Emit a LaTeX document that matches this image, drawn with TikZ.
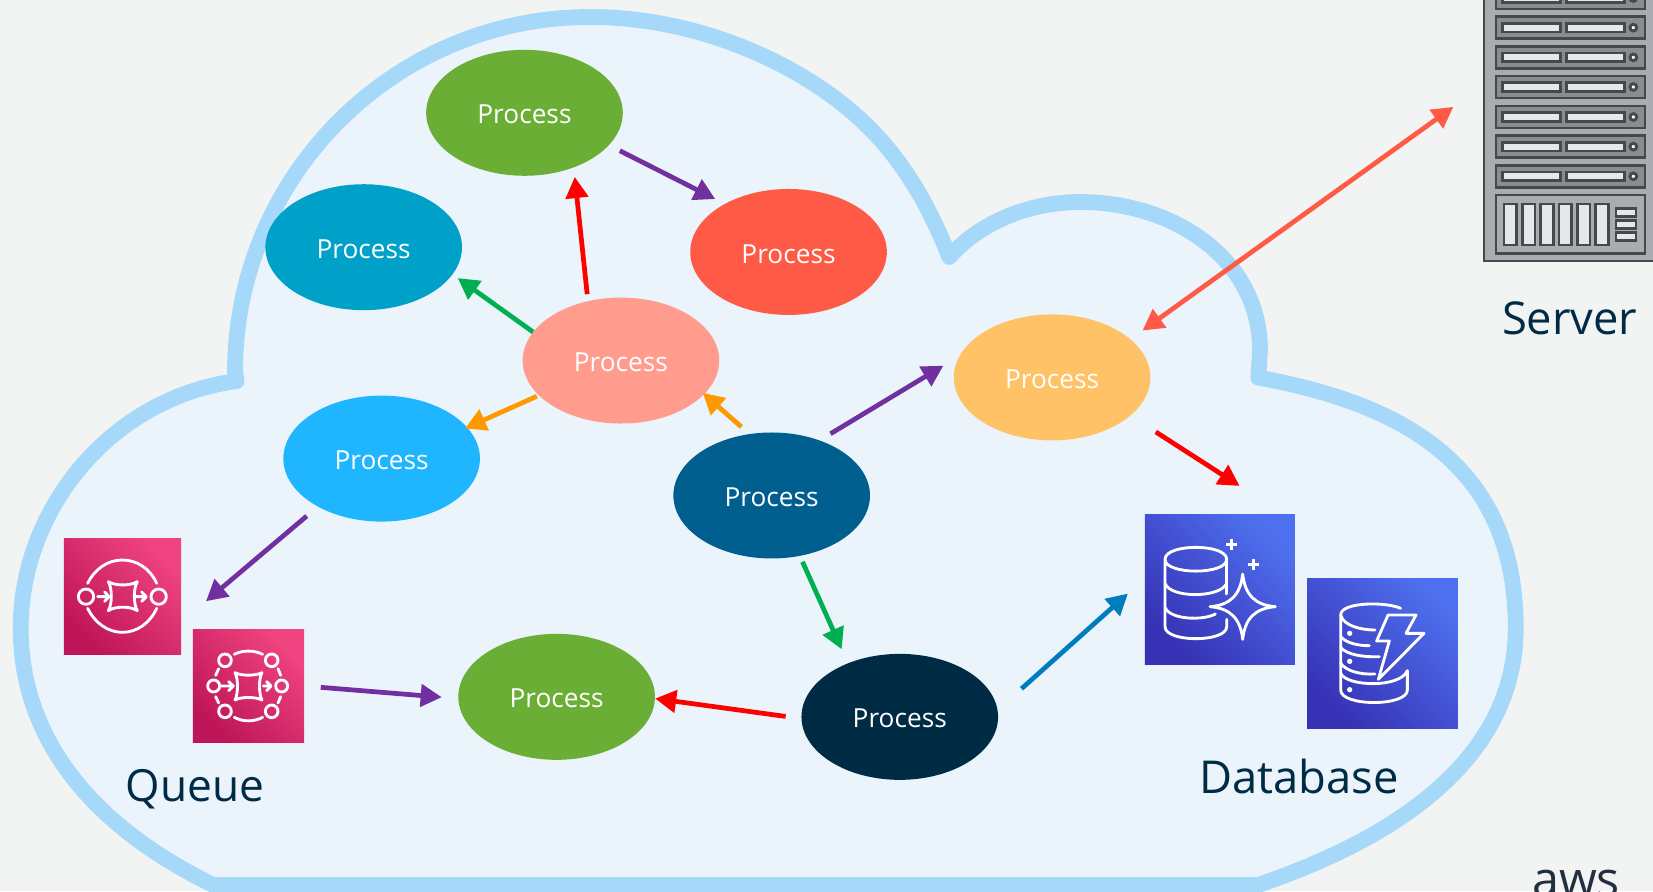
\documentclass[tikz,border=0pt]{standalone}
\usepackage{fontspec}
\setmainfont{Open Sans}
\usetikzlibrary{arrows.meta,shapes.geometric}
\definecolor{bgc}{HTML}{F2F4F3}
\definecolor{cloudfill}{HTML}{EBF4FB}
\definecolor{cloudline}{HTML}{A6D8FA}
\definecolor{ink}{HTML}{002B45}
\definecolor{awsink}{HTML}{232F3E}
\definecolor{cgreen}{HTML}{6AAE36}
\definecolor{cteal}{HTML}{00A1C9}
\definecolor{ctomato}{HTML}{FF5A46}
\definecolor{csalmon}{HTML}{FF9C8E}
\definecolor{csky}{HTML}{1FB6FF}
\definecolor{camber}{HTML}{FFC266}
\definecolor{cdeep}{HTML}{005F8E}
\definecolor{cnavy}{HTML}{002B45}
\definecolor{apurple}{HTML}{7030A0}
\definecolor{ared}{HTML}{FF0000}
\definecolor{agreen}{HTML}{00B050}
\definecolor{aorange}{HTML}{FF9900}
\definecolor{ablue}{HTML}{007DBC}
\definecolor{pinkA}{HTML}{BE1558}
\definecolor{pinkB}{HTML}{F04480}
\definecolor{blueA}{HTML}{3731B5}
\definecolor{blueB}{HTML}{4E70EE}
\definecolor{srvbody}{HTML}{A9ACB0}
\definecolor{srvplate}{HTML}{8A8C8F}
\definecolor{srvline}{HTML}{47484A}
\definecolor{srvslot}{HTML}{E6E7E8}
\tikzset{
  proc/.style={ellipse,minimum width=186.5pt,minimum height=119.5pt,inner sep=0pt,text=white,text height=21pt,text depth=0pt,font=\fontsize{24.9}{30}\selectfont},
  label/.style={text=ink,font=\fontsize{43}{50}\selectfont,inner sep=0pt},
  arr/.style={line width=4.5pt,-{Triangle[length=20pt,width=21pt]}},
  pinkicon/.style={rectangle,inner sep=0pt,bottom color=pinkA,top color=pinkB,shading angle=-45},
  blueicon/.style={rectangle,inner sep=0pt,bottom color=blueA,top color=blueB,shading angle=-45},
  glyph/.style={draw=white,line width=2.7pt,line cap=round,line join=round},
  srvrow/.style={draw=srvline,line width=2.8pt,fill=srvplate},
  srvsl/.style={draw=srvline,line width=2.6pt,fill=srvslot},
}
\begin{document}
\begin{tikzpicture}[x=1pt,y=-1pt]
\useasboundingbox (0,0) rectangle (1568,845.2);
\clip (0,0) rectangle (1568,845.2);
\fill[bgc] (0,0) rectangle (1568,845.2);
% cloud
\begin{scope}[scale=.9486]
\draw[cloudline,line width=15pt,line join=round,fill=cloudfill]
  (213.3,885) .. controls (100,830) and (20.7,745) .. (20.7,628)
  .. controls (20.7,510) and (110,398) .. (236.7,381)
  -- (235,372)
  .. controls (235,176) and (394,17) .. (590,17)
  .. controls (700,17) and (800,65) .. (856.7,116)
  .. controls (895,150) and (925,195) .. (949.3,257)
  .. controls (980,222) and (1030,202) .. (1080,202)
  .. controls (1175,202) and (1260,260) .. (1260,350)
  -- (1258.3,377.6)
  .. controls (1410,405) and (1515.7,470) .. (1515.7,628)
  .. controls (1515.7,745) and (1420,830) .. (1258,885) -- cycle;
\end{scope}
% processes
\node[proc,fill=cgreen] (pA) at (497.5,107) {Process};
\node[proc,fill=cteal] (pB) at (345,234.5) {Process};
\node[proc,fill=ctomato] (pC) at (748,239) {Process};
\node[proc,fill=csalmon] (pD) at (589,342) {Process};
\node[proc,fill=csky] (pE) at (362,435) {Process};
\node[proc,fill=camber] (pF) at (998,358) {Process};
\node[proc,fill=cdeep] (pG) at (732,470) {Process};
\node[proc,fill=cnavy] (pH) at (853.5,680) {Process};
\node[proc,fill=cgreen] (pI) at (528,661) {Process};
% icon tiles
\node[pinkicon,minimum width=111pt,minimum height=110pt] (sqsA) at (116.2,565.4) {};
\node[pinkicon,minimum width=105.4pt,minimum height=106.3pt] (sqsB) at (235.7,650.7) {};
\node[blueicon,minimum width=142.3pt,minimum height=142.3pt] (rds) at (1157.2,558.8) {};
\node[blueicon,minimum width=143pt,minimum height=143pt] (ddb) at (1311.5,619.8) {};
\node[rectangle,draw=srvline,fill=srvbody,line width=1.8pt,inner sep=0pt,minimum width=165.5pt,minimum height=346.5pt] (srv) at (1490.2,74) {};
% queue glyphs
\begin{scope}[shift={(47.43,493.26)},scale=.3162]
  \draw[glyph] (108,230) circle (23) (326,230) circle (23);
  \draw[glyph] (113,190) .. controls (135,145) and (175,120) .. (217,120) .. controls (260,120) and (300,145) .. (320,190);
  \draw[glyph] (113,265) .. controls (135,310) and (175,337) .. (217,337) .. controls (260,337) and (300,310) .. (320,265);
  \draw[glyph] (175,185) .. controls (195,198) and (242,198) .. (262,185) .. controls (250,205) and (250,252) .. (262,272) .. controls (242,258) and (195,258) .. (175,272) .. controls (187,252) and (187,205) .. (175,185) -- cycle;
  \draw[glyph] (143,230) -- (176,230) (164,216) -- (177,230) -- (164,244);
  \draw[glyph] (256,230) -- (288,230) (275,216) -- (289,230) -- (275,244);
\end{scope}
\begin{scope}[shift={(47.43,493.26)},scale=.3162]
  \draw[glyph] (525,421) circle (19) (665,421) circle (19) (491,498) circle (18) (695,498) circle (18) (525,574) circle (19) (665,574) circle (19);
  \draw[glyph] (553,403) .. controls (578,390) and (612,390) .. (638,403);
  \draw[glyph] (553,592) .. controls (578,606) and (612,606) .. (638,592);
  \draw[glyph] (506,446) -- (497,466) (497,530) -- (506,549) (684,446) -- (692,466) (692,530) -- (684,549);
  \draw[glyph] (555,458) .. controls (572,468) and (618,468) .. (636,458) .. controls (626,475) and (626,522) .. (636,540) .. controls (618,530) and (572,530) .. (555,540) .. controls (565,522) and (565,475) .. (555,458) -- cycle;
  \draw[glyph] (510,498) -- (549,498) (536,485) -- (550,498) -- (536,512);
  \draw[glyph] (640,498) -- (662,498) (650,485) -- (663,498) -- (650,512);
\end{scope}
% database glyphs
\begin{scope}[shift={(1071.9,474.3)},scale=.3162]
  \draw[glyph] (105,178) .. controls (105,130) and (290,130) .. (290,178) .. controls (290,225) and (105,225) .. (105,178) -- (105,380) .. controls (105,428) and (290,428) .. (290,380) -- (290,358);
  \draw[glyph] (290,178) -- (290,282);
  \draw[glyph] (105,250) .. controls (120,295) and (270,295) .. (290,250);
  \draw[glyph] (105,322) .. controls (120,360) and (220,362) .. (256,342);
  \draw[glyph] (338,222) .. controls (345,285) and (375,315) .. (436,320) .. controls (375,325) and (345,355) .. (338,418) .. controls (331,355) and (301,325) .. (240,320) .. controls (301,315) and (331,285) .. (338,222) -- cycle;
  \draw[white,line width=3.2pt] (305,117) -- (305,150) (289,133) -- (322,133) (371,177) -- (371,210) (355,193) -- (388,193);
\end{scope}
\begin{scope}[shift={(1071.9,474.3)},scale=.3162]
  \draw[glyph] (812,325) .. controls (770,305) and (632,305) .. (632,345) -- (632,570) .. controls (632,620) and (832,620) .. (832,570) -- (832,512);
  \draw[glyph] (632,345) .. controls (640,378) and (695,390) .. (735,390);
  \draw[glyph] (632,410) .. controls (650,430) and (685,437) .. (718,437);
  \draw[glyph] (632,442) .. controls (650,465) and (705,472) .. (748,470);
  \draw[glyph] (632,490) .. controls (650,515) and (695,524) .. (735,522);
  \draw[glyph] (632,520) .. controls (650,560) and (810,565) .. (832,512);
  \draw[glyph] (774,345) -- (858,345) -- (828,400) -- (882,400) -- (745,538) -- (778,423) -- (740,423) -- cycle;
  \fill[white] (659,400) circle (8) (659,484) circle (8) (659,569) circle (8);
\end{scope}
% server detail
\begin{scope}[shift={(1384.9,0)},scale=.3162]
  \foreach \yy in {-6,83,172,261,351,440,529} {
    \draw[srvrow] (108,\yy-33) rectangle (555,\yy+33);
    \draw[srvsl] (128,\yy-13) rectangle (302,\yy+13);
    \draw[srvsl] (320,\yy-13) rectangle (494,\yy+13);
    \draw[draw=srvline,line width=2.8pt,fill=white] (520,\yy) circle (10);
  }
  \draw[srvrow,fill=srvbody] (108,585) rectangle (555,760);
  \foreach \xx in {132,187,242,297,352,407} {
    \draw[srvsl] (\xx,612) rectangle (\xx+38,735);
  }
  \foreach \yy in {637,674,709} {
    \draw[srvsl] (468,\yy-12) rectangle (528,\yy+12);
  }
\end{scope}
% connectors
\draw[arr,apurple,shorten <=11.5pt,shorten >=10pt] (pA.-21) -- (pC.143.3);
\draw[arr,ared,shorten <=6.5pt,shorten >=9pt] (pD.119) -- (pA.-48.2);
\draw[arr,agreen,shorten >=6pt] (pD.162) -- (pB.-17.2);
\draw[arr,aorange,shorten <=2pt,shorten >=-2.5pt] (pD.-157.1) -- (pE.20.2);
\draw[arr,aorange,shorten <=10pt,shorten >=-2pt] (pG.110.2) -- (pD.-22);
\draw[arr,apurple,shorten <=12pt,shorten >=17.8pt] (pG.49.9) -- (pF.167.9);
\draw[line width=4.5pt,ctomato,{Triangle[length=20pt,width=21pt]}-{Triangle[length=20pt,width=21pt]},shorten <=14pt,shorten >=34.4pt] (pF.26.6) -- (srv.185.5);
\draw[arr,ared,shorten <=28.5pt,shorten >=49pt] (pF.-26.3) -- (rds.50.4);
\draw[arr,apurple,shorten <=13.7pt,shorten >=30.8pt] (pE.-143.8) -- (sqsA.-24.8);
\draw[arr,apurple,shorten <=15.7pt,shorten >=15.6pt] (sqsB.east) -- (pI.181.4);
\draw[arr,ared,shorten <=15pt] (pH.181.2) -- (pI.-1.8);
\draw[arr,agreen,shorten <=6pt,shorten >=14.4pt] (pG.-65.2) -- (pH.134.2);
\draw[arr,ablue,shorten <=30.3pt,shorten >=21.4pt] (pH.4.3) -- (rds.172);
% labels
\node[label,font=\fontsize{42}{50}\selectfont] (lq) at (185,749) {Queue};
\node[label] (ld) at (1232,737) {Database};
\node[label] (ls) at (1489,302) {Server};
\node[label,text=awsink,anchor=base,font=\fontsize{46}{50}\selectfont] (la) at (1495,850) {aws};
\end{tikzpicture}
\end{document}
